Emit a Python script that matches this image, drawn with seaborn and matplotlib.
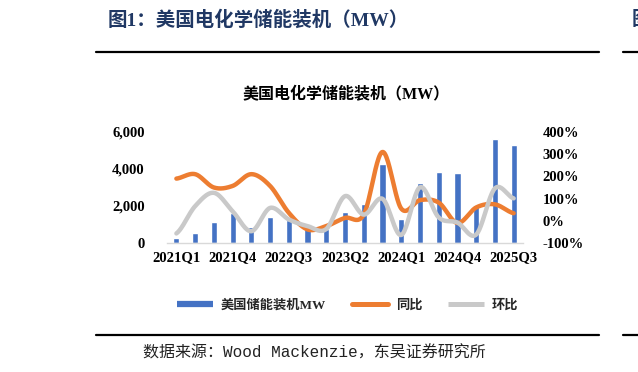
import numpy as np
import pandas as pd
import matplotlib
matplotlib.use('Agg')
import matplotlib.pyplot as plt
from matplotlib.lines import Line2D
from matplotlib.ticker import FuncFormatter
import seaborn as sns

quarters = ['2021Q1', '2021Q2', '2021Q3', '2021Q4', '2022Q1', '2022Q2', '2022Q3',
            '2022Q4', '2023Q1', '2023Q2', '2023Q3', '2023Q4', '2024Q1', '2024Q2',
            '2024Q3', '2024Q4', '2025Q1', '2025Q2', '2025Q3']
install_mw = [250, 515, 1150, 1640, 860, 1390, 1240, 1010, 770, 1700, 2120, 4270,
              1280, 3250, 3830, 3790, 2050, 5630, 5300]
yoy_pct = [190, 210, 150, 157, 210, 157, 36, -39, -24, 13, 28, 310,
           55, 93, 82, -10, 60, 74, 34]
qoq_pct = [-57, 66, 126, 43, -47, 58, 6, -24, -37, 111, 28, 99,
           -64, 151, 15, -8, -62, 146, 101]

BLUE = '#4472C4'
ORANGE = '#ED7D31'
GRAY = '#C9C9C9'
HEAD = '#203864'
CJK = 'Noto Sans CJK SC'
SERIF = ['Liberation Serif', CJK]


def smooth(xv, yv, n=24):
    # Excel style smoothed line (uniform Catmull-Rom)
    x = np.asarray(xv, float)
    p = np.asarray(yv, float)
    P = np.concatenate([[p[0]], p, [p[-1]]])
    xs, ys = [], []
    t = np.linspace(0, 1, n, endpoint=False)
    for i in range(len(p) - 1):
        p0, p1, p2, p3 = P[i], P[i + 1], P[i + 2], P[i + 3]
        y = 0.5 * (2 * p1 + (-p0 + p2) * t + (2 * p0 - 5 * p1 + 4 * p2 - p3) * t ** 2
                   + (-p0 + 3 * p1 - 3 * p2 + p3) * t ** 3)
        xs.append(x[i] + t * (x[i + 1] - x[i]))
        ys.append(y)
    xs.append([x[-1]])
    ys.append([p[-1]])
    return np.concatenate(xs), np.concatenate(ys)


sns.set_theme(style='white')
plt.rcParams['font.family'] = SERIF

df = pd.DataFrame({'quarter': quarters, 'mw': install_mw})
pos = np.arange(len(quarters))

fig = plt.figure(figsize=(6.38, 3.72), dpi=100)
ax = fig.add_axes([0.2618, 0.3468, 0.558, 0.2984])
sns.barplot(data=df, x='quarter', y='mw', color=BLUE, width=0.33,
            saturation=1, ax=ax)
ax.set_xlim(-0.5, len(quarters) - 0.5)
ax.set_ylim(0, 6000)
ax.set_yticks([0, 2000, 4000, 6000])
ax.yaxis.set_major_formatter(FuncFormatter(lambda v, _: f'{v:,.0f}'))
ax.set_xticks(pos[::3])
ax.set_xticklabels(quarters[::3])
ax.set_xlabel('')
ax.set_ylabel('')

ax2 = ax.twinx()
for vals, col in [(yoy_pct, ORANGE), (qoq_pct, GRAY)]:
    sx, sy = smooth(pos, vals)
    sns.lineplot(x=sx, y=sy, ax=ax2, color=col, lw=3.2, estimator=None,
                 sort=False, solid_capstyle='round')
ax2.set_ylim(-100, 400)
ax2.set_yticks([-100, 0, 100, 200, 300, 400])
ax2.yaxis.set_major_formatter(FuncFormatter(lambda v, _: f'{v:.0f}%'))
ax2.set_xlim(-0.5, len(quarters) - 0.5)

for a in (ax, ax2):
    for s in ('top', 'left', 'right'):
        a.spines[s].set_visible(False)
    a.spines['bottom'].set_color('#D9D9D9')
    a.spines['bottom'].set_linewidth(1.0)
    a.grid(False)
    a.tick_params(length=0)
ax2.spines['bottom'].set_visible(False)
ax.tick_params(axis='y', pad=16)
ax.tick_params(axis='x', pad=6)
ax2.tick_params(axis='y', pad=14)
for lab in ax.get_xticklabels() + ax.get_yticklabels() + ax2.get_yticklabels():
    lab.set_fontfamily(SERIF)
    lab.set_fontweight('bold')
    lab.set_fontsize(10.5)
    lab.set_color('black')

# legend
handles = [Line2D([], [], color=BLUE, lw=4.5, solid_capstyle='butt'),
           Line2D([], [], color=ORANGE, lw=3.6, solid_capstyle='round'),
           Line2D([], [], color=GRAY, lw=3.6, solid_capstyle='butt')]
leg = fig.legend(handles, ['美国储能装机MW', '同比', '环比'], loc='center',
                 bbox_to_anchor=(0.545, 0.178), ncol=3, frameon=False,
                 handlelength=2.7, handletextpad=0.6, columnspacing=2.0,
                 prop={'family': SERIF, 'weight': 'bold', 'size': 9.5})

# page header / footer
fig.text(108 / 638, 1 - 20 / 372, '图1：美国电化学储能装机（MW）', family=SERIF,
         fontsize=14, fontweight='bold', color=HEAD, va='center', ha='left')
fig.text(632 / 638, 1 - 20 / 372, '图2', family=SERIF, fontsize=14,
         fontweight='bold', color=HEAD, va='center', ha='left')
fig.text(346 / 638, 1 - 95 / 372, '美国电化学储能装机（MW）', family=SERIF,
         fontsize=11.5, fontweight='bold', color='black', va='center', ha='center')
fig.text(143 / 638, 1 - 353 / 372, '数据来源：Wood Mackenzie，东吴证券研究所',
         family=['Liberation Mono', CJK], fontsize=11.5, color='#222222',
         va='center', ha='left')

for yy in (52, 335):
    fig.add_artist(Line2D([96 / 638, 599 / 638], [1 - yy / 372] * 2,
                          color='black', lw=1.6, transform=fig.transFigure))
    fig.add_artist(Line2D([623 / 638, 1.0], [1 - yy / 372] * 2,
                          color='black', lw=1.6, transform=fig.transFigure))

fig.savefig('out.png', dpi=100)
